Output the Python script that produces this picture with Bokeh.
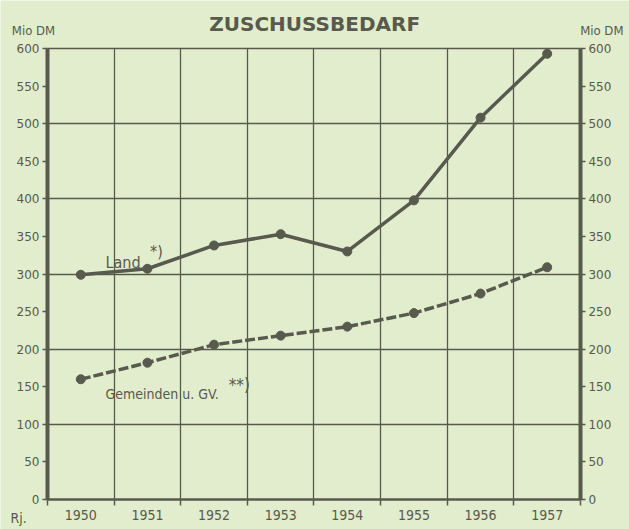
from bokeh.plotting import figure
from bokeh.models import Range1d, FixedTicker, LinearAxis, Label, Grid
from bokeh.embed import file_html
from bokeh.resources import INLINE

# ---- data ----
years = ["1950", "1951", "1952", "1953", "1954", "1955", "1956", "1957"]
land = [299, 307, 338, 353, 330, 398, 508, 593]
gemeinden = [160, 182, 206, 218, 230, 248, 274, 309]
y_ticks = [0, 50, 100, 150, 200, 250, 300, 350, 400, 450, 500, 550, 600]
y_grid = [100, 200, 300, 400, 500, 600]

INK = "#575a4c"
BG = "#e2edcd"
FONT = "DejaVu Sans Condensed"

n = len(years)
xs = [i + 0.5 for i in range(n)]
bounds = list(range(n + 1))
YMAX = y_ticks[-1]

p = figure(width=629, height=529,
           x_range=Range1d(-0.7054, 8.7355), y_range=Range1d(-39.9, 663.9),
           output_backend="svg", toolbar_location=None,
           background_fill_color=BG, border_fill_color=BG,
           min_border_left=0, min_border_right=0,
           min_border_top=0, min_border_bottom=0,
           x_axis_type=None, y_axis_type=None)
p.outline_line_color = None

# grids (bounded to the chart box)
p.add_layout(Grid(dimension=0, ticker=FixedTicker(ticks=bounds[1:-1]),
                  bounds=(0, n), cross_bounds=(0, YMAX),
                  grid_line_color=INK, grid_line_width=1.3))
p.add_layout(Grid(dimension=1, ticker=FixedTicker(ticks=y_grid),
                  bounds=(0, YMAX), cross_bounds=(0, n),
                  grid_line_color=INK, grid_line_width=1.3))

# x axis
xa = LinearAxis(ticker=FixedTicker(ticks=xs, minor_ticks=bounds),
                fixed_location=0, bounds=(0, n))
xa.major_label_overrides = {x: y for x, y in zip(xs, years)}
xa.major_tick_line_color = None
xa.major_tick_out = 0
xa.major_tick_in = 0
xa.minor_tick_out = 6
xa.minor_tick_in = 0
xa.minor_tick_line_color = INK
xa.minor_tick_line_width = 1.5
xa.axis_line_color = INK
xa.axis_line_width = 2.5
xa.major_label_text_font = FONT
xa.major_label_text_font_size = "14px"
xa.major_label_text_color = INK
xa.major_label_standoff = 4
p.add_layout(xa, "below")

# y axes
for loc, xloc in (("left", 0), ("right", n)):
    ax = LinearAxis(ticker=FixedTicker(ticks=y_ticks), fixed_location=xloc,
                    bounds=(0, YMAX))
    ax.major_tick_out = 5
    ax.major_tick_in = 0
    ax.minor_tick_line_color = None
    ax.major_tick_line_color = INK
    ax.major_tick_line_width = 1.5
    ax.axis_line_color = INK
    ax.axis_line_width = 4
    ax.major_label_text_font = "DejaVu Sans"
    ax.major_label_text_font_size = "12px"
    ax.major_label_text_color = INK
    ax.major_label_standoff = 3
    p.add_layout(ax, loc)

# series
p.line(xs, land, line_color=INK, line_width=3.5)
p.scatter(xs, land, size=9, color=INK)
p.line(xs, gemeinden, line_color=INK, line_width=3.5, line_dash="10 3")
p.scatter(xs, gemeinden, size=9, color=INK)

# labels
def lab(x, y, t, size, align="left", font=FONT, weight="normal"):
    p.add_layout(Label(x=x, y=y, text=t, text_font=font,
                       text_font_size=size, text_color=INK,
                       text_align=align, text_baseline="middle",
                       text_font_style=weight))

lab(0.87, 315, "Land", "16px")
lab(1.54, 330, "*)", "16px")
lab(0.87, 141, "Gemeinden u. GV.", "14px")
lab(2.72, 152, "**)", "17px")

lab(4.01, 632, "ZUSCHUSSBEDARF", "20px", align="center", font="DejaVu Sans", weight="bold")
lab(-0.21, 624, "Mio DM", "13px", align="center")
lab(8.32, 624, "Mio DM", "13px", align="center")
lab(-0.435, -25, "Rj.", "14px", align="center")

open("out.html", "w").write(file_html(p, INLINE))
